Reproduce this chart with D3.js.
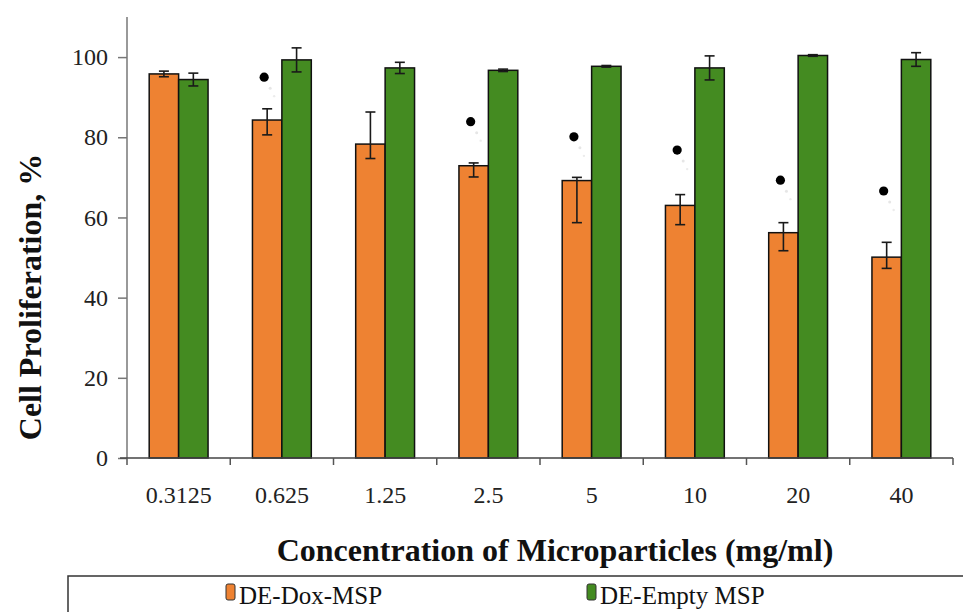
<!DOCTYPE html>
<html>
<head>
<meta charset="utf-8">
<script src="https://cdn.jsdelivr.net/npm/d3@7/dist/d3.min.js"></script>
<style>
  body { margin: 0; background: #fff; }
  svg { display: block; font-family: "Liberation Serif", "Times New Roman", serif; }
</style>
</head>
<body>
<svg id="chart" width="963" height="612"></svg>
<script>
//data
var categories = ["0.3125", "0.625", "1.25", "2.5", "5", "10", "20", "40"];
var seriesNames = ["DE-Dox-MSP", "DE-Empty MSP"];
var doxValues = [95.8, 84.3, 78.3, 72.9, 69.2, 63.0, 56.2, 50.1];
var doxErrUp = [0.7, 2.8, 8.0, 0.7, 0.8, 2.7, 2.5, 3.7];
var doxErrDown = [0.7, 3.7, 3.6, 2.8, 10.5, 4.8, 4.5, 2.8];
var emptyValues = [94.4, 99.3, 97.3, 96.7, 97.7, 97.3, 100.4, 99.4];
var emptyErr = [1.6, 3.0, 1.4, 0.3, 0.2, 3.0, 0.2, 1.7];
//significance marks above the dox bars (null = none)
var starValues = [null, 95, null, 83.9, 80.1, 76.8, 69.3, 66.6];
var yTicks = [0, 20, 40, 60, 80, 100];

var colors = ["#ee8232", "#448b21"];

var svg = d3.select("#chart");

var x = d3.scaleBand()
    .domain(categories)
    .range([127, 953])
    .paddingInner(0.43)
    .paddingOuter(0.215);

var xSub = d3.scaleBand()
    .domain(seriesNames)
    .range([0, x.bandwidth()]);

var y = d3.scaleLinear()
    .domain([0, 110])
    .range([458, 17]);

//rows for the bars
var rows = [];
categories.forEach(function(c, i) {
  rows.push({cat: c, s: seriesNames[0], v: doxValues[i], up: doxErrUp[i], down: doxErrDown[i]});
  rows.push({cat: c, s: seriesNames[1], v: emptyValues[i], up: emptyErr[i], down: emptyErr[i]});
});

//y axis
var yAxis = svg.append("g")
    .attr("transform", "translate(127,0)")
    .call(d3.axisLeft(y).tickValues(yTicks).tickSize(9).tickPadding(10))
    .attr("font-family", "Liberation Serif")
    .attr("font-size", 24);
yAxis.select(".domain").remove();
yAxis.append("line")
    .attr("x1", 0).attr("x2", 0)
    .attr("y1", y(110)).attr("y2", y(0))
    .attr("stroke", "#777").attr("stroke-width", 1.5);
yAxis.selectAll(".tick line").attr("stroke", "#777").attr("stroke-width", 1.5);
yAxis.selectAll(".tick text")
    .attr("font-family", "Liberation Serif")
    .attr("fill", "#222");

//bars
svg.append("g").selectAll("rect")
    .data(rows)
    .enter().append("rect")
    .attr("x", function(d) { return x(d.cat) + xSub(d.s); })
    .attr("y", function(d) { return y(d.v); })
    .attr("width", xSub.bandwidth())
    .attr("height", function(d) { return y(0) - y(d.v); })
    .attr("fill", function(d) { return d.s == seriesNames[0] ? colors[0] : colors[1]; })
    .attr("stroke", "#111")
    .attr("stroke-width", 1.5);

//error bars
var err = svg.append("g").selectAll("g")
    .data(rows)
    .enter().append("g")
    .attr("transform", function(d) { return "translate(" + (x(d.cat) + xSub(d.s) + xSub.bandwidth() / 2) + ",0)"; })
    .attr("stroke", "#1a1a1a")
    .attr("stroke-width", 1.6);
err.append("line")
    .attr("y1", function(d) { return y(d.v + d.up); })
    .attr("y2", function(d) { return y(d.v - d.down); });
err.append("line")
    .attr("x1", -5).attr("x2", 5)
    .attr("y1", function(d) { return y(d.v + d.up); })
    .attr("y2", function(d) { return y(d.v + d.up); });
err.append("line")
    .attr("x1", -5).attr("x2", 5)
    .attr("y1", function(d) { return y(d.v - d.down); })
    .attr("y2", function(d) { return y(d.v - d.down); });

//significance dots, with the faint smudge under them
var stars = categories.map(function(c, i) { return {cat: c, v: starValues[i]}; })
    .filter(function(d) { return d.v != null; });
var starG = svg.append("g").selectAll("g")
    .data(stars)
    .enter().append("g")
    .attr("transform", function(d) {
      return "translate(" + (x(d.cat) + xSub(seriesNames[0]) + xSub.bandwidth() / 2 - 3) + "," + y(d.v) + ")";
    });
starG.append("circle").attr("r", 4.6).attr("fill", "#000");
starG.append("circle").attr("cx", 6).attr("cy", 11).attr("r", 1.5).attr("fill", "#e6e6e6");
starG.append("circle").attr("cx", 10).attr("cy", 19).attr("r", 1.2).attr("fill", "#ececec");

//x axis with ticks between groups
var xg = svg.append("g");
xg.append("line")
    .attr("x1", 120).attr("x2", x.range()[1])
    .attr("y1", y(0)).attr("y2", y(0))
    .attr("stroke", "#444").attr("stroke-width", 1.5);
var bounds = d3.range(categories.length + 1).map(function(i) { return x.range()[0] + i * x.step(); });
xg.selectAll(".xt")
    .data(bounds)
    .enter().append("line")
    .attr("class", "xt")
    .attr("x1", function(d) { return d; }).attr("x2", function(d) { return d; })
    .attr("y1", y(0)).attr("y2", y(0) + 7)
    .attr("stroke", "#555").attr("stroke-width", 1.5);
xg.selectAll(".xl")
    .data(categories)
    .enter().append("text")
    .attr("class", "xl")
    .attr("x", function(d) { return x(d) + x.bandwidth() / 2; })
    .attr("y", 503)
    .attr("text-anchor", "middle")
    .attr("font-size", "24px")
    .attr("fill", "#222")
    .text(function(d) { return d; });

//axis titles
svg.append("text")
    .attr("x", 555).attr("y", 561)
    .attr("text-anchor", "middle")
    .attr("font-size", "32px")
    .attr("font-weight", "bold")
    .attr("fill", "#111")
    .text("Concentration of Microparticles (mg/ml)");

svg.append("text")
    .attr("transform", "translate(30,297) rotate(-90)")
    .attr("text-anchor", "middle")
    .attr("dy", "0.35em")
    .attr("font-size", "32px")
    .attr("font-weight", "bold")
    .attr("fill", "#111")
    .text("Cell Proliferation, %");

//legend box, runs off the bottom and right edge
var legend = svg.append("g");
legend.append("rect")
    .attr("x", 68).attr("y", 576)
    .attr("width", 920).attr("height", 60)
    .attr("fill", "#fff")
    .attr("stroke", "#333").attr("stroke-width", 1.5);
var legendX = [226, 587];
var li = legend.selectAll(".li")
    .data(seriesNames)
    .enter().append("g")
    .attr("class", "li")
    .attr("transform", function(d, i) { return "translate(" + legendX[i] + ",0)"; });
li.append("rect")
    .attr("x", 0).attr("y", 584)
    .attr("width", 9).attr("height", 16)
    .attr("rx", 2)
    .attr("fill", function(d, i) { return colors[i]; })
    .attr("stroke", "#333").attr("stroke-width", 1);
li.append("text")
    .attr("x", 13).attr("y", 604)
    .attr("font-size", "25px")
    .attr("fill", "#111")
    .text(function(d) { return d; });
</script>
</body>
</html>
